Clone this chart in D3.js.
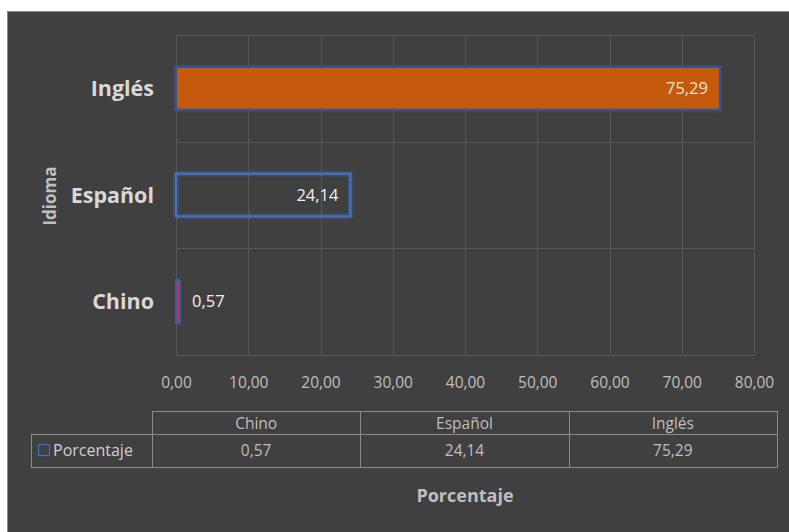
<!DOCTYPE html>
<html>
<head>
<meta charset="utf-8">
<script src="https://cdn.jsdelivr.net/npm/d3@7"></script>
<style>
  html, body { margin: 0; padding: 0; background: #ffffff; }
  svg { display: block; font-family: "Open Sans", sans-serif; }
</style>
</head>
<body>
<svg id="chart" width="789" height="532"></svg>
<script>
// Language share (percent) by category
const categories = ["Chino", "Español", "Inglés"];
const values = [0.57, 24.14, 75.29];
const seriesName = "Porcentaje";
const xTicks = [0, 10, 20, 30, 40, 50, 60, 70, 80];
const yTitle = "Idioma";
const xTitle = "Porcentaje";

const fmt = v => d3.format(".2f")(v).replace(".", ",");

const svg = d3.select("#chart");
const W = 789, H = 532;

// Card background
svg.append("rect")
  .attr("x", 7.5).attr("y", 11.5)
  .attr("width", W).attr("height", H)
  .attr("fill", "#404040")
  .attr("stroke", "#8c8c8c").attr("stroke-width", 1);

const plot = { left: 176, right: 754, top: 35, bottom: 355 };

const x = d3.scaleLinear().domain([0, 80]).range([plot.left, plot.right]);
const y = d3.scaleBand()
  .domain(categories.slice().reverse())
  .range([plot.top, plot.bottom])
  .paddingInner(0.6)
  .paddingOuter(0.3);

// Gridlines
const grid = svg.append("g").attr("stroke", "#575757").attr("stroke-width", 1).attr("fill", "none");
xTicks.forEach(t => {
  grid.append("line")
    .attr("x1", Math.round(x(t)) + 0.5).attr("x2", Math.round(x(t)) + 0.5)
    .attr("y1", plot.top).attr("y2", plot.bottom);
});
const step = y.step();
const bandEdges = [plot.top];
y.domain().forEach(c => bandEdges.push(y(c) - step * y.paddingInner() / 2 + step));
bandEdges[bandEdges.length - 1] = plot.bottom;
bandEdges.forEach(v => {
  grid.append("line")
    .attr("x1", plot.left).attr("x2", plot.right)
    .attr("y1", Math.round(v) + 0.5).attr("y2", Math.round(v) + 0.5);
});

// Glow filter for bar outlines
const defs = svg.append("defs");
const glow = defs.append("filter").attr("id", "glow").attr("x", "-20%").attr("y", "-40%").attr("width", "140%").attr("height", "180%");
glow.append("feGaussianBlur").attr("in", "SourceGraphic").attr("stdDeviation", 1.6).attr("result", "b");
const merge = glow.append("feMerge");
merge.append("feMergeNode").attr("in", "b");
merge.append("feMergeNode").attr("in", "SourceGraphic");

const barStyle = {
  "Inglés":  { fill: "#C55A11", stroke: "#2F5597" },
  "Español": { fill: "none",    stroke: "#4472C4" },
  "Chino":   { fill: "#C8304F", stroke: "#3A5DA8" }
};

const rows = categories.map((c, i) => ({ cat: c, val: values[i] }));

// Bars
svg.append("g").selectAll("rect")
  .data(rows)
  .join("rect")
  .attr("x", x(0))
  .attr("y", d => y(d.cat))
  .attr("width", d => x(d.val) - x(0))
  .attr("height", y.bandwidth())
  .attr("fill", d => barStyle[d.cat].fill)
  .attr("stroke", d => barStyle[d.cat].stroke)
  .attr("stroke-width", 2)
  .attr("filter", "url(#glow)");

// Value labels
svg.append("g").selectAll("text")
  .data(rows)
  .join("text")
  .attr("x", d => (x(d.val) - x(0) > 60) ? x(d.val) - 12 : x(d.val) + 12)
  .attr("y", d => y(d.cat) + y.bandwidth() / 2)
  .attr("dy", "0.35em")
  .attr("text-anchor", d => (x(d.val) - x(0) > 60) ? "end" : "start")
  .attr("font-size", 16.5)
  .attr("fill", d => d.cat === "Inglés" ? "#F3E3D3" : "#F2F2F2")
  .text(d => fmt(d.val));

// Category axis labels
svg.append("g").selectAll("text")
  .data(categories)
  .join("text")
  .attr("x", 154)
  .attr("y", d => y(d) + y.bandwidth() / 2)
  .attr("dy", "0.35em")
  .attr("text-anchor", "end")
  .attr("font-size", 21.5)
  .attr("font-weight", "bold")
  .attr("fill", "#D9D9D9")
  .text(d => d);

// Value axis (labels only)
const xAxis = svg.append("g")
  .attr("transform", `translate(0,${383})`)
  .call(d3.axisBottom(x).tickValues(xTicks).tickSize(0).tickPadding(0).tickFormat(fmt));
xAxis.select(".domain").remove();
xAxis.selectAll("text")
  .attr("y", 0).attr("dy", "0.35em")
  .attr("font-family", "Open Sans, sans-serif")
  .attr("font-size", 15.5)
  .attr("fill", "#BFBFBF");

// Axis titles
svg.append("text")
  .attr("transform", `translate(50,196) rotate(-90)`)
  .attr("text-anchor", "middle")
  .attr("dy", "0.35em")
  .attr("font-size", 17)
  .attr("font-weight", "bold")
  .attr("fill", "#BFBFBF")
  .text(yTitle);

svg.append("text")
  .attr("x", (plot.left + plot.right) / 2)
  .attr("y", 496)
  .attr("dy", "0.35em")
  .attr("text-anchor", "middle")
  .attr("font-size", 18)
  .attr("font-weight", "bold")
  .attr("fill", "#BFBFBF")
  .text(xTitle);

// Data table
const table = { left: 152, right: 777, top: 411, mid: 434, bottom: 467, legendLeft: 31 };
const col = d3.scaleBand().domain(categories).range([table.left, table.right]);
const tg = svg.append("g");
const lineColor = "#8C8C8C";

// outer frames
tg.append("rect")
  .attr("x", table.left + 0.5).attr("y", table.top + 0.5)
  .attr("width", table.right - table.left).attr("height", table.bottom - table.top)
  .attr("fill", "none").attr("stroke", lineColor);
tg.append("rect")
  .attr("x", table.legendLeft + 0.5).attr("y", table.mid + 0.5)
  .attr("width", table.left - table.legendLeft).attr("height", table.bottom - table.mid)
  .attr("fill", "none").attr("stroke", lineColor);
tg.append("line")
  .attr("x1", table.left).attr("x2", table.right)
  .attr("y1", table.mid + 0.5).attr("y2", table.mid + 0.5)
  .attr("stroke", lineColor);
categories.slice(1).forEach(c => {
  tg.append("line")
    .attr("x1", Math.round(col(c)) + 0.5).attr("x2", Math.round(col(c)) + 0.5)
    .attr("y1", table.top).attr("y2", table.bottom)
    .attr("stroke", lineColor);
});

// header row
tg.selectAll("text.head")
  .data(categories)
  .join("text")
  .attr("class", "head")
  .attr("x", d => col(d) + col.bandwidth() / 2)
  .attr("y", (table.top + table.mid) / 2 + 1)
  .attr("dy", "0.35em")
  .attr("text-anchor", "middle")
  .attr("font-size", 15.5)
  .attr("fill", "#BFBFBF")
  .text(d => d);

// value row
tg.selectAll("text.val")
  .data(rows)
  .join("text")
  .attr("class", "val")
  .attr("x", d => col(d.cat) + col.bandwidth() / 2)
  .attr("y", (table.mid + table.bottom) / 2)
  .attr("dy", "0.35em")
  .attr("text-anchor", "middle")
  .attr("font-size", 15.5)
  .attr("fill", "#BFBFBF")
  .text(d => fmt(d.val));

// legend key + series name
tg.append("rect")
  .attr("x", 38.5).attr("y", 444.5)
  .attr("width", 11).attr("height", 11)
  .attr("fill", "#404040")
  .attr("stroke", "#4472C4").attr("stroke-width", 1.2);
tg.append("text")
  .attr("x", 53)
  .attr("y", (table.mid + table.bottom) / 2)
  .attr("dy", "0.35em")
  .attr("font-size", 16)
  .attr("fill", "#D0D0D0")
  .text(seriesName);
</script>
</body>
</html>
